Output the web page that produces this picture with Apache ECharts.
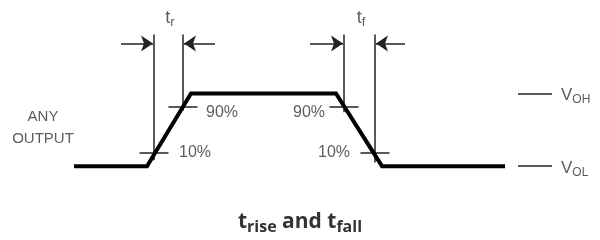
<!DOCTYPE html>
<html>
<head>
<meta charset="utf-8" />
<style>
  html, body, #main { margin: 0; padding: 0; background: #ffffff; }
</style>
</head>
<body>
<div id="main" style="width: 600px; height: 240px;"></div>
<script src="https://cdn.jsdelivr.net/npm/echarts@6/dist/echarts.min.js"></script>
<script>
// waveform (time, level: 0 = V_OL, 1 = V_OH)
const waveT = [74, 147, 191, 336, 382, 505];
const waveLevel = [0, 0, 1, 1, 0, 0];

// threshold levels as drawn (10% and 90%)
const thresholdNames = ['10%', '90%'];
const thresholdLevel = [0.18, 0.82];

// crossing times: rise 10%, rise 90%, fall 90%, fall 10%
const crossT = [154, 183, 344, 375];
const crossLevel = [0.18, 0.82, 0.82, 0.18];
const markerBottom = [0.08, 0.76, 0.74, 0.05];
const markerTop = 1.81;

// dimension arrows [from, to]
const arrowLevel = 1.685;
const arrows = [[121, 153], [215, 184], [310, 343], [405, 376]];
const intervalNames = ['r', 'f'];
const intervalLabelT = [170, 361];

// output levels
const levelNames = ['OH', 'OL'];
const levelValues = [1, 0];
const levelDash = [518, 552];

const ink = '#222';
const thin = { color: ink, width: 1.5, opacity: 1 };
const gray = '#333';

const tickHalf = 14.5;
const segs = [];
crossT.forEach((t, i) => {
  segs.push({ coords: [[t, markerTop], [t, markerBottom[i]]] });
  segs.push({ coords: [[t - tickHalf, crossLevel[i]], [t + tickHalf, crossLevel[i]]] });
});
levelValues.forEach(v => segs.push({ coords: [[levelDash[0], v], [levelDash[1], v]] }));

const arrowData = arrows.map(a => ({ coords: [[a[0], arrowLevel], [a[1], arrowLevel]] }));

const pctLabels = [
  { value: [179, thresholdLevel[0]], name: thresholdNames[0], align: 'left' },
  { value: [206, thresholdLevel[1] - 0.08], name: thresholdNames[1], align: 'left' },
  { value: [325, thresholdLevel[1] - 0.08], name: thresholdNames[1], align: 'right' },
  { value: [350, thresholdLevel[0]], name: thresholdNames[0], align: 'right' }
].map(d => ({ value: d.value, name: d.name, label: { align: d.align } }));

const chart = echarts.init(document.getElementById('main'));
chart.setOption({
  animation: false,
  title: {
    text: 't{sub|rise} and t{sub|fall}',
    left: 'center',
    top: 204,
    textStyle: {
      fontFamily: 'Open Sans', fontWeight: 'bold', fontSize: 21, color: '#333',
      rich: {
        sub: { fontFamily: 'Open Sans', fontWeight: 'bold', fontSize: 16, color: '#333', padding: [10, 0, 0, 0] }
      }
    }
  },
  grid: { left: 0, right: 0, top: 6, bottom: 1 },
  xAxis: { type: 'value', min: 0, max: 600, show: false },
  yAxis: { type: 'value', min: -1, max: 2.2, show: false },
  series: [
    {
      type: 'line',
      data: waveT.map((t, i) => [t, waveLevel[i]]),
      symbol: 'none',
      lineStyle: { color: '#000', width: 4, join: 'miter' },
      z: 5
    },
    {
      type: 'lines',
      coordinateSystem: 'cartesian2d',
      data: segs,
      lineStyle: thin,
      symbol: 'none',
      silent: true
    },
    {
      type: 'lines',
      coordinateSystem: 'cartesian2d',
      data: arrowData,
      lineStyle: thin,
      symbol: ['none', 'arrow'],
      symbolSize: [6, 12],
      itemStyle: { color: ink, opacity: 1 },
      silent: true
    },
    {
      type: 'scatter',
      symbolSize: 0,
      data: pctLabels,
      label: {
        show: true, position: 'inside', formatter: '{b}',
        fontFamily: 'Liberation Sans', fontSize: 16, color: gray, verticalAlign: 'middle'
      }
    },
    {
      type: 'scatter',
      symbolSize: 0,
      data: [{ value: [43, 0.52], name: 'ANY\nOUTPUT' }],
      label: {
        show: true, position: 'inside', formatter: '{b}', align: 'center',
        fontFamily: 'Liberation Sans', fontSize: 15, lineHeight: 22, color: gray
      }
    },
    {
      type: 'scatter',
      symbolSize: 0,
      data: intervalNames.map((n, i) => ({ value: [intervalLabelT[i], 2.04], name: n })),
      label: {
        show: true, position: 'inside', align: 'center',
        formatter: p => 't{s|' + p.name + '}',
        fontFamily: 'Liberation Sans', fontSize: 18, color: gray,
        rich: { s: { fontSize: 13, color: gray, padding: [10, 0, 0, 0] } }
      }
    },
    {
      type: 'scatter',
      symbolSize: 0,
      data: levelNames.map((n, i) => ({ value: [561, levelValues[i] - 0.03], name: n })),
      label: {
        show: true, position: 'inside', align: 'left',
        formatter: p => 'V{s|' + p.name + '}',
        fontFamily: 'Liberation Sans', fontSize: 17, color: gray,
        rich: { s: { fontSize: 12, color: gray, padding: [9, 0, 0, 0] } }
      }
    }
  ]
});
</script>
</body>
</html>
